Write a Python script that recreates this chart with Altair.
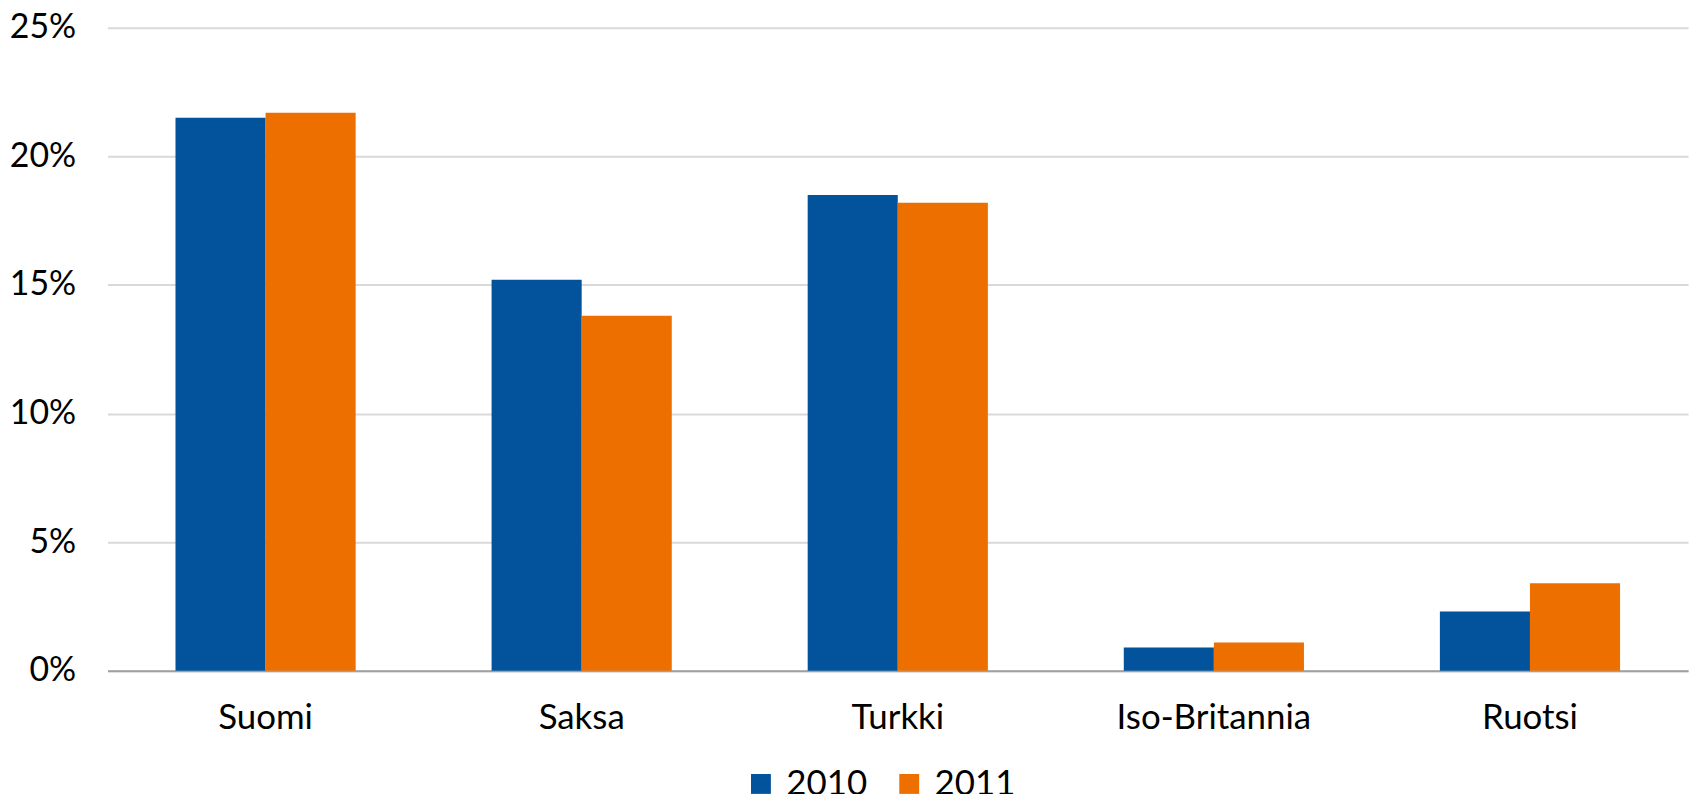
import altair as alt
import pandas as pd

countries = ["Suomi", "Saksa", "Turkki", "Iso-Britannia", "Ruotsi"]
years = ["2010", "2011"]
values_2010 = [21.5, 15.2, 18.5, 0.9, 2.3]
values_2011 = [21.7, 13.8, 18.2, 1.1, 3.4]
y_ticks = [0, 5, 10, 15, 20, 25]
colors = ["#02539C", "#ED6F00"]

rows = []
for c, a, b in zip(countries, values_2010, values_2011):
    rows.append({"maa": c, "vuosi": years[0], "arvo": a})
    rows.append({"maa": c, "vuosi": years[1], "arvo": b})
df = pd.DataFrame(rows)

FONT = "Lato"
FS = 35

chart = alt.Chart(df).mark_bar().encode(
    x=alt.X("maa:N", sort=countries, title=None,
            scale=alt.Scale(paddingInner=0.43, paddingOuter=0.215),
            axis=alt.Axis(labelAngle=0, ticks=False, domain=True, domainColor="#a0a0a0",
                          domainWidth=2, labelPadding=30, labelFontSize=FS, labelFont=FONT,
                          labelColor="#000000", grid=False, labelLimit=0)),
    xOffset=alt.XOffset("vuosi:N", sort=years, scale=alt.Scale(paddingInner=0, paddingOuter=0)),
    y=alt.Y("arvo:Q", title=None,
            scale=alt.Scale(domain=[0, 25], nice=False),
            axis=alt.Axis(values=y_ticks, labelExpr="datum.value + '%'", ticks=False, domain=False,
                          gridColor="#d9d9d9", gridWidth=2, labelPadding=32, labelFontSize=34,
                          labelFont=FONT, labelColor="#000000")),
    color=alt.Color("vuosi:N", sort=years, scale=alt.Scale(domain=years, range=colors),
                    legend=alt.Legend(title=None, orient="none", legendX=639, legendY=742,
                                      direction="horizontal", symbolType="square", symbolSize=400,
                                      symbolStrokeWidth=0, labelFontSize=FS, labelFont=FONT,
                                      labelColor="#000000", labelOffset=8, columnPadding=24,
                                      padding=0)),
).properties(
    width=1588, height=646,
    autosize=alt.AutoSizeParams(type="none"),
    padding={"left": 100, "top": 18, "right": 4, "bottom": 122},
).configure_view(stroke=None)

chart.save("out.html", embed_options={"renderer": "svg", "actions": False})
